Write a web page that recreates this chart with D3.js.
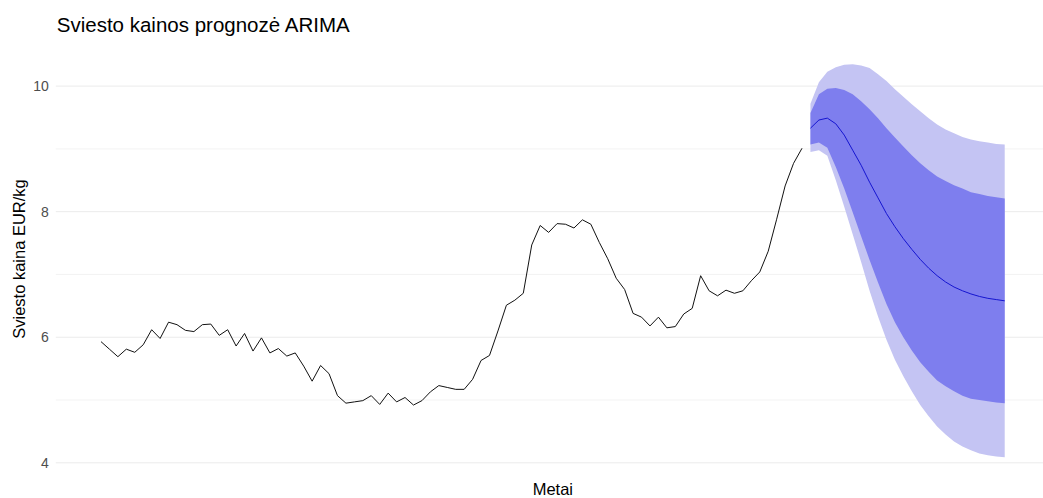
<!DOCTYPE html>
<html>
<head>
<meta charset="utf-8">
<script src="https://cdn.jsdelivr.net/npm/d3@7"></script>
<style>
  html, body { margin: 0; padding: 0; background: #fff; }
  svg { display: block; font-family: "Liberation Sans", Arial, sans-serif; }
</style>
</head>
<body>
<svg id="chart" width="1043" height="498"></svg>
<script>
// Monthly butter price, EUR/kg (84 observations)
const observed = [
  5.93, 5.81, 5.69, 5.81, 5.76, 5.88, 6.12, 5.98, 6.24, 6.20,
  6.11, 6.09, 6.20, 6.21, 6.03, 6.12, 5.86, 6.06, 5.78, 5.99,
  5.75, 5.82, 5.70, 5.75, 5.54, 5.30, 5.55, 5.42, 5.07, 4.95,
  4.97, 4.99, 5.07, 4.93, 5.11, 4.97, 5.04, 4.92, 4.99, 5.13,
  5.23, 5.20, 5.17, 5.17, 5.33, 5.63, 5.71, 6.10, 6.51, 6.59,
  6.70, 7.47, 7.78, 7.67, 7.81, 7.80, 7.74, 7.87, 7.80, 7.51,
  7.25, 6.94, 6.76, 6.38, 6.32, 6.18, 6.32, 6.15, 6.17, 6.37,
  6.46, 6.98, 6.74, 6.66, 6.75, 6.70, 6.74, 6.90, 7.04, 7.37,
  7.88, 8.41, 8.77, 9.01
];

// ARIMA forecast, 24 months ahead: point forecast and prediction intervals
const fcMean = [
  9.33, 9.46, 9.49, 9.40, 9.22, 8.98, 8.74, 8.47, 8.22, 7.97,
  7.76, 7.57, 7.40, 7.24, 7.10, 6.98, 6.88, 6.80, 6.74, 6.69,
  6.65, 6.62, 6.60, 6.58
];
const lo80 = [
  9.07, 9.10, 9.02, 8.71, 8.37, 7.99, 7.61, 7.23, 6.87, 6.53,
  6.24, 6.00, 5.79, 5.60, 5.45, 5.31, 5.22, 5.14, 5.07, 5.02,
  5.00, 4.98, 4.96, 4.95
];
const hi80 = [
  9.57, 9.87, 9.96, 9.97, 9.94, 9.87, 9.76, 9.63, 9.49, 9.33,
  9.18, 9.04, 8.90, 8.77, 8.66, 8.56, 8.49, 8.42, 8.37, 8.31,
  8.28, 8.25, 8.23, 8.21
];
const lo95 = [
  8.95, 8.98, 8.89, 8.50, 8.08, 7.64, 7.20, 6.74, 6.33, 5.96,
  5.64, 5.38, 5.14, 4.92, 4.74, 4.58, 4.45, 4.34, 4.26, 4.20,
  4.15, 4.12, 4.10, 4.09
];
const hi95 = [
  9.72, 10.06, 10.23, 10.30, 10.34, 10.35, 10.33, 10.29, 10.19, 10.08,
  9.95, 9.83, 9.71, 9.60, 9.49, 9.39, 9.31, 9.25, 9.19, 9.15,
  9.12, 9.10, 9.08, 9.07
];

const yTicks = [4, 6, 8, 10];
const yMinor = [5, 7, 9];

const titleText = "Sviesto kainos prognozė ARIMA";
const xTitle = "Metai";
const yTitle = "Sviesto kaina EUR/kg";

// ---- layout ----
const svg = d3.select("#chart");
const panel = { left: 55.8, right: 1049.9, top: 44.5, bottom: 476.8 };

const nObs = observed.length;
const nAll = nObs + fcMean.length;
const obsData = observed.map((v, i) => ({ t: i, v }));
const fcData = fcMean.map((v, j) => ({
  t: nObs + j, v, lo80: lo80[j], hi80: hi80[j], lo95: lo95[j], hi95: hi95[j]
}));

// continuous scales with 5% padding on each side
const tMax = nAll - 1;
const x = d3.scaleLinear()
  .domain([-0.05 * tMax, tMax * 1.05])
  .range([panel.left, panel.right]);

const yLo = d3.min([d3.min(observed), d3.min(lo95)]);
const yHi = d3.max([d3.max(observed), d3.max(hi95)]);
const pad = (yHi - yLo) * 0.05;
const y = d3.scaleLinear()
  .domain([yLo - pad, yHi + pad])
  .range([panel.bottom, panel.top]);

// ---- grid ----
const grid = svg.append("g");
grid.selectAll("line.minor").data(yMinor).join("line")
  .attr("class", "minor")
  .attr("x1", panel.left).attr("x2", panel.right)
  .attr("y1", d => y(d)).attr("y2", d => y(d))
  .attr("stroke", "#f0f0f0").attr("stroke-width", 0.8);
grid.selectAll("line.major").data(yTicks).join("line")
  .attr("class", "major")
  .attr("x1", panel.left).attr("x2", panel.right)
  .attr("y1", d => y(d)).attr("y2", d => y(d))
  .attr("stroke", "#ebebeb").attr("stroke-width", 1);

// ---- y axis labels ----
const yAxis = svg.append("g")
  .attr("transform", `translate(${panel.left - 7},0)`)
  .call(d3.axisLeft(y).tickValues(yTicks).tickSize(0).tickPadding(0).tickFormat(d3.format("d")));
yAxis.select(".domain").remove();
yAxis.selectAll("text")
  .attr("fill", "#4d4d4d")
  .style("font-size", "14px")
  .style("font-family", "'Liberation Sans', Arial, sans-serif");

// ---- prediction intervals ----
const band = (lo, hi) => d3.area()
  .x(d => x(d.t))
  .y0(d => y(d[lo]))
  .y1(d => y(d[hi]));

svg.append("path").datum(fcData)
  .attr("d", band("lo95", "hi95"))
  .attr("fill", "#c4c4f3");
svg.append("path").datum(fcData)
  .attr("d", band("lo80", "hi80"))
  .attr("fill", "#7e7eee");

// ---- observed series ----
const line = d3.line().x(d => x(d.t)).y(d => y(d.v));
svg.append("path").datum(obsData)
  .attr("d", line)
  .attr("fill", "none")
  .attr("stroke", "#111")
  .attr("stroke-width", 1)
  .attr("stroke-linejoin", "round");

// ---- point forecast ----
svg.append("path").datum(fcData)
  .attr("d", line)
  .attr("fill", "none")
  .attr("stroke", "#1515d0")
  .attr("stroke-width", 1);

// ---- titles ----
svg.append("text")
  .attr("x", panel.left + 1).attr("y", 32)
  .attr("fill", "#000")
  .style("font-size", "20.5px")
  .text(titleText);

svg.append("text")
  .attr("x", (panel.left + panel.right) / 2).attr("y", 495)
  .attr("text-anchor", "middle")
  .attr("fill", "#000")
  .style("font-size", "16.5px")
  .text(xTitle);

svg.append("text")
  .attr("transform", `translate(25,259) rotate(-90)`)
  .attr("text-anchor", "middle")
  .attr("fill", "#000")
  .style("font-size", "16.5px")
  .text(yTitle);
</script>
</body>
</html>
